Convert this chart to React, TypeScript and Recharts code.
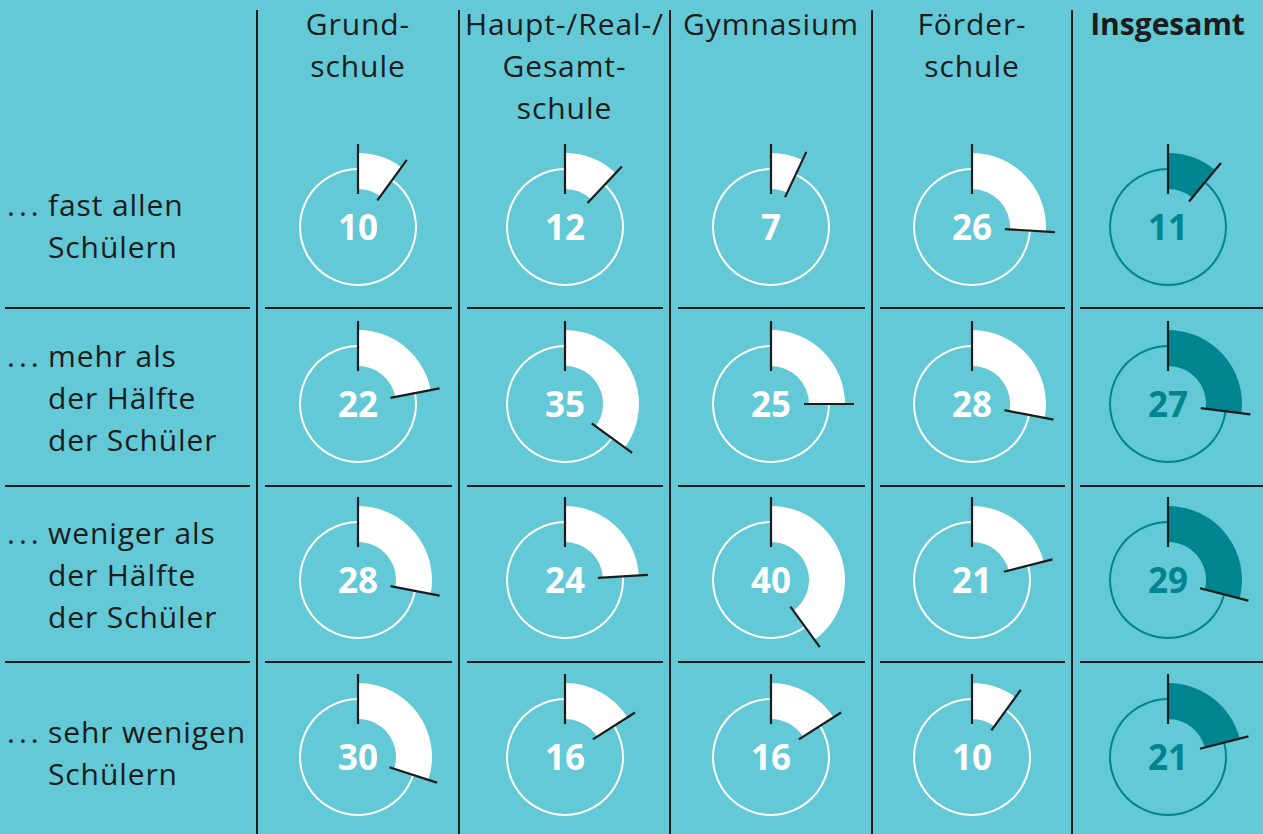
import { PieChart, Pie, Cell } from 'recharts'

// Schulformen (Spalten)
const schoolTypes = [
  ['Grund-', 'schule'],
  ['Haupt-/Real-/', 'Gesamt-', 'schule'],
  ['Gymnasium'],
  ['Förder-', 'schule'],
  ['Insgesamt'],
]

// Zeilenbeschriftungen
const rowLabels = [
  ['fast allen', 'Schülern'],
  ['mehr als', 'der Hälfte', 'der Schüler'],
  ['weniger als', 'der Hälfte', 'der Schüler'],
  ['sehr wenigen', 'Schülern'],
]

// Anteile in Prozent, je Zeile über die Schulformen
const fastAllen = [10, 12, 7, 26, 11]
const mehrAlsHaelfte = [22, 35, 25, 28, 27]
const wenigerAlsHaelfte = [28, 24, 40, 21, 29]
const sehrWenigen = [30, 16, 16, 10, 21]

const rows = [fastAllen, mehrAlsHaelfte, wenigerAlsHaelfte, sehrWenigen]

const BG = '#63c9d6'
const TEAL = '#00848f'
const INK = '#1c1c1c'
const FONT = '"Open Sans", "Noto Sans", sans-serif'

// layout
const colLines = [257, 459, 670, 872, 1072, 1263]
const colCenters = colLines.slice(0, 5).map((x, i) => (x + colLines[i + 1]) / 2)
const rowCenters = [227, 404, 580, 757]
const rowLines = [308, 486, 662]
const labelTops = [184, 335, 512, 711]
const SIZE = 180

const RAD = Math.PI / 180
const pt = (cx: number, cy: number, r: number, a: number) => ({
  x: cx + r * Math.cos(-a * RAD),
  y: cy + r * Math.sin(-a * RAD),
})

function makeLabel(textColor: string) {
  return (props: any) => {
    if (props.index !== 0) return null
    const { cx, cy, startAngle, endAngle, payload } = props
    const a1 = pt(cx, cy, 33, startAngle)
    const a2 = pt(cx, cy, 83, startAngle)
    const b1 = pt(cx, cy, 33, endAngle)
    const b2 = pt(cx, cy, 83, endAngle)
    return (
      <g>
        <line x1={a1.x} y1={a1.y} x2={a2.x} y2={a2.y} stroke={INK} strokeWidth={2.2} />
        <line x1={b1.x} y1={b1.y} x2={b2.x} y2={b2.y} stroke={INK} strokeWidth={2.2} />
        <text
          x={cx}
          y={cy + 13}
          textAnchor="middle"
          fill={textColor}
          fontSize={35}
          fontWeight={700}
          fontFamily={FONT}
        >
          {payload.value}
        </text>
      </g>
    )
  }
}

function Gauge({ value, total }: { value: number; total: boolean }) {
  const color = total ? TEAL : '#ffffff'
  const data = [
    { name: 'Anteil', value },
    { name: 'Rest', value: 100 - value },
  ]
  return (
    <PieChart width={SIZE} height={SIZE} margin={{ top: 0, right: 0, bottom: 0, left: 0 }}>
      <Pie
        data={[{ name: 'Kreis', value: 1 }]}
        dataKey="value"
        cx="50%"
        cy="50%"
        innerRadius={57}
        outerRadius={59}
        startAngle={90}
        endAngle={-270}
        fill={color}
        stroke="none"
        isAnimationActive={false}
      />
      <Pie
        data={data}
        dataKey="value"
        cx="50%"
        cy="50%"
        innerRadius={38}
        outerRadius={74}
        startAngle={90}
        endAngle={-270}
        stroke="none"
        label={makeLabel(color)}
        labelLine={false}
        isAnimationActive={false}
      >
        <Cell fill={color} />
        <Cell fill="transparent" />
      </Pie>
    </PieChart>
  )
}

export default function App() {
  return (
    <div
      style={{
        position: 'absolute',
        left: 0,
        top: 0,
        width: 1263,
        height: 834,
        background: BG,
        overflow: 'hidden',
        fontFamily: FONT,
        color: INK,
      }}
    >
      {/* vertical rules */}
      {colLines.slice(0, 5).map((x) => (
        <div
          key={'v' + x}
          style={{ position: 'absolute', left: x - 1, top: 10, width: 2, height: 824, background: INK }}
        />
      ))}

      {/* horizontal rules, broken at the vertical ones */}
      {rowLines.map((y) =>
        [5, ...colLines.slice(0, 5)].map((x0, i) => {
          const start = i === 0 ? 5 : x0 + 8
          const end = i < 5 ? colLines[i] - 7 : 1263
          return (
            <div
              key={'h' + y + '-' + i}
              style={{ position: 'absolute', left: start, top: y - 1, width: end - start, height: 2, background: INK }}
            />
          )
        })
      )}

      {/* column headers */}
      {schoolTypes.map((lines, c) => (
        <div
          key={'head' + c}
          style={{
            position: 'absolute',
            left: colCenters[c] - 110,
            width: 220,
            top: 3,
            textAlign: 'center',
            fontSize: 30,
            letterSpacing: c === 4 ? 0 : 0.9,
            lineHeight: '42px',
            fontWeight: c === 4 ? 700 : 400,
            whiteSpace: 'nowrap',
          }}
        >
          {lines.map((l) => (
            <div key={l}>{l}</div>
          ))}
        </div>
      ))}

      {/* row labels */}
      {rowLabels.map((lines, r) => (
        <div
          key={'row' + r}
          style={{ position: 'absolute', top: labelTops[r], left: 0, fontSize: 30, lineHeight: '42px', letterSpacing: 0.9 }}
        >
          <div style={{ position: 'absolute', left: 7, top: 0, letterSpacing: 4 }}>...</div>
          <div style={{ position: 'absolute', left: 48, top: 0, whiteSpace: 'nowrap' }}>
            {lines.map((l) => (
              <div key={l}>{l}</div>
            ))}
          </div>
        </div>
      ))}

      {/* gauges */}
      {rows.map((vals, r) =>
        vals.map((v, c) => (
          <div
            key={'g' + r + '-' + c}
            style={{ position: 'absolute', left: colCenters[c] - SIZE / 2, top: rowCenters[r] - SIZE / 2 }}
          >
            <Gauge value={v} total={c === 4} />
          </div>
        ))
      )}
    </div>
  )
}
